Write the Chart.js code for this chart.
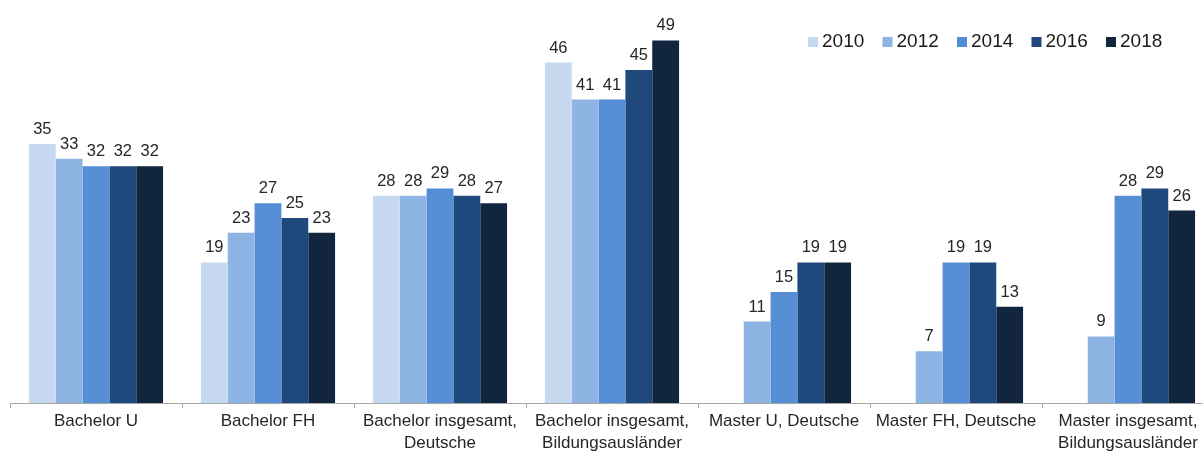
<!DOCTYPE html>
<html lang="de">
  <head>
    <meta charset="UTF-8">
    <title>Abbruchquoten</title>
    <script src="https://cdn.jsdelivr.net/npm/chart.js"></script>
    <style>
      body { margin: 0; overflow: hidden; background: #fff; }
      .chart-container { width: 1215px; height: 451px; }
    </style>
  </head>
  <body>
    <div class="chart-container">
      <canvas id="chart"></canvas>
    </div>
    <script>
      const categories = [
        'Bachelor U',
        'Bachelor FH',
        ['Bachelor insgesamt,', 'Deutsche'],
        ['Bachelor insgesamt,', 'Bildungsausländer'],
        'Master U, Deutsche',
        'Master FH, Deutsche',
        ['Master insgesamt,', 'Bildungsausländer']
      ];
      const years = ['2010', '2012', '2014', '2016', '2018'];
      const v2010 = [35, 19, 28, 46, null, null, null];
      const v2012 = [33, 23, 28, 41, 11, 7, 9];
      const v2014 = [32, 27, 29, 41, 15, 19, 28];
      const v2016 = [32, 25, 28, 45, 19, 19, 29];
      const v2018 = [32, 23, 27, 49, 19, 13, 26];
      const colors = ['#C6D9F0', '#8EB4E3', '#558ED5', '#1F487C', '#11253F'];

      const series = [v2010, v2012, v2014, v2016, v2018];
      const font = '"Liberation Sans", Arial, sans-serif';

      // Werte über den Balken + Legende oben rechts
      const overlay = {
        id: 'overlay',
        afterDatasetsDraw(chart) {
          const ctx = chart.ctx;
          ctx.save();
          ctx.fillStyle = '#262626';
          ctx.font = '16.5px ' + font;
          ctx.textAlign = 'center';
          ctx.textBaseline = 'alphabetic';
          chart.data.datasets.forEach((ds, i) => {
            chart.getDatasetMeta(i).data.forEach((bar, j) => {
              if (ds.data[j] == null) return;
              ctx.fillText(ds.data[j], bar.x, bar.y - 10);
            });
          });

          ctx.font = '19px ' + font;
          ctx.textAlign = 'left';
          ctx.textBaseline = 'middle';
          let x = 808;
          years.forEach((y, i) => {
            ctx.fillStyle = colors[i];
            ctx.fillRect(x, 37, 10, 10);
            ctx.fillStyle = '#1a1a1a';
            ctx.fillText(y, x + 14, 42);
            x += 74.5;
          });
          ctx.restore();
        }
      };

      new Chart(document.getElementById('chart'), {
        type: 'bar',
        data: {
          labels: categories,
          datasets: series.map((d, i) => ({
            label: years[i],
            data: d,
            backgroundColor: colors[i],
            borderWidth: 0,
            categoryPercentage: 0.78,
            barPercentage: 1
          }))
        },
        options: {
          responsive: true,
          maintainAspectRatio: false,
          animation: false,
          layout: { padding: { left: 10, right: 1, top: 33, bottom: 0 } },
          plugins: {
            legend: { display: false },
            tooltip: { enabled: false }
          },
          scales: {
            y: { display: false, min: 0, max: 50 },
            x: {
              grid: {
                offset: true,
                drawOnChartArea: false,
                drawTicks: true,
                tickLength: 5,
                color: '#A6A6A6'
              },
              border: { color: '#A6A6A6', width: 1 },
              ticks: {
                color: '#262626',
                font: { family: font, size: 17, lineHeight: 1.25 },
                padding: 3,
                maxRotation: 0,
                autoSkip: false
              },
              afterFit(scale) { scale.height = 48; }
            }
          }
        },
        plugins: [overlay]
      });
    </script>
  </body>
</html>
